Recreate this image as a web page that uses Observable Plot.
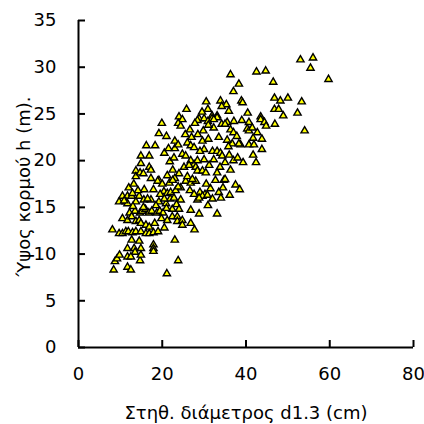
<!DOCTYPE html>
<html>
<head>
<meta charset="utf-8">
<script src="https://cdn.jsdelivr.net/npm/d3@7"></script>
<script src="https://cdn.jsdelivr.net/npm/@observablehq/plot@0.6"></script>
<style>
  html, body { margin: 0; padding: 0; background: #fff; }
</style>
</head>
<body>
<div id="chart"></div>
<script>
const xTitle = "Στηθ. διάμετρος d1.3 (cm)";
const yTitle = "Ύψος κορμού h (m).";
const xTicks = [0, 20, 40, 60, 80];
const yTicks = [0, 5, 10, 15, 20, 25, 30, 35];

// [diameter d1.3 (cm), height h (m)]
const trees = [
  [36.3,29.2],[42.5,29.5],[38.3,28.2],[37.0,27.4],[30.5,26.3],[33.9,26.4],[38.9,26.4],[39.2,26.2],
  [35.3,26.0],[34.2,25.8],[30.9,25.5],[35.9,25.3],[25.8,25.5],[40.4,25.1],[31.9,24.8],[33.1,24.8],
  [53.0,30.8],[56.0,31.0],[55.4,29.9],[44.7,29.6],[59.7,28.7],[46.5,28.4],[46.8,26.7],[48.2,26.4],
  [50.0,26.7],[53.3,26.3],[46.8,25.5],[47.8,25.5],[52.3,25.1],[48.9,24.8],[43.5,24.7],
  [39.0,24.3],[40.7,24.1],[43.5,24.4],[44.4,24.1],[44.8,23.7],[46.9,23.9],[54.0,23.2],[40.3,23.4],
  [40.7,23.2],[42.7,23.0],[41.7,22.4],[43.8,22.3],[40.7,21.7],[41.9,21.7],[43.8,21.2],[38.7,21.7],
  [41.7,20.6],[39.3,19.8],[42.4,19.8],
  [24.0,24.7],[28.8,24.5],[30.0,24.5],[31.9,24.5],[33.1,24.6],
  [24.8,24.4],[28.4,24.3],[30.9,24.2],[32.3,24.4],[35.5,24.1],[37.1,24.2],
  [19.9,24.0],[23.8,24.0],[24.4,23.7],
  [26.6,23.3],[29.8,23.2],[32.3,23.5],[34.2,23.9],[35.0,23.9],[36.3,23.3],[37.0,23.0],[41.5,23.5],
  [19.2,22.9],[21.0,22.6],[23.0,22.1],[23.0,21.3],[23.8,21.7],[16.2,21.6],[18.3,21.6],
  [26.0,21.9],[26.8,21.6],[27.6,21.4],[29.6,22.1],[30.0,21.2],[32.0,21.0],[33.1,21.0],[33.9,20.8],
  [34.3,20.5],[36.7,21.8],[38.3,21.8],
  [24.8,20.7],[25.6,20.5],[26.8,20.0],[27.6,19.6],[28.4,20.0],[30.0,20.1],[32.3,20.1],[35.0,19.8],
  [14.9,20.5],[16.9,20.5],[14.9,19.7],[16.9,19.3],[17.3,19.0],[13.7,18.9],[13.7,18.3],[14.7,18.7],
  [15.5,18.6],[17.3,18.1],[19.2,17.9],[18.9,17.8],[21.2,18.4],
  [25.2,19.3],[26.4,19.5],[28.0,19.3],[28.4,18.9],[29.6,18.9],[30.4,18.7],[33.1,18.7],[36.3,19.0],
  [20.5,20.8],[21.8,19.9],[22.5,19.0],[22.8,20.3],[21.5,21.3],[24.0,18.6],[23.0,18.1],
  [25.6,17.8],[26.8,17.6],[28.0,17.8],[32.7,17.9],[34.7,17.9],[35.0,18.0],
  [24.4,17.1],[26.6,16.8],[29.0,16.6],[30.2,16.4],
  [15.7,16.9],[17.9,16.9],[20.4,16.7],[21.2,16.5],[22.0,16.6],[23.2,16.8],[23.8,17.2],
  [36.1,16.3],[27.6,16.4],[29.6,16.2],[30.8,16.3],[31.5,17.0],[33.5,16.6],[34.5,17.1],[37.5,17.4],[38.5,16.9],
  [10.5,16.2],[11.7,16.2],[12.7,16.2],[14.5,16.2],
  [11.3,15.6],[11.7,15.4],[13.7,15.6],[15.6,15.8],[17.3,15.8],[19.2,15.6],[20.9,15.4],[21.9,15.9],[22.4,14.8],
  [12.2,14.4],[13.5,14.6],[14.7,14.4],[15.2,14.6],[16.0,14.8],[16.8,14.4],[17.5,14.6],[18.7,14.4],
  [19.4,14.6],[20.2,14.4],[21.0,14.9],
  [22.4,14.0],[23.6,14.0],[23.6,13.5],
  [10.5,13.8],[11.7,13.6],[12.7,14.0],[13.7,13.5],[14.5,13.6],[14.9,13.3],[16.1,13.1],[16.9,12.9],
  [8.1,12.6],[9.7,12.2],[10.5,12.2],[11.3,12.4],[11.9,12.4],[12.9,12.3],[13.7,12.4],[14.9,12.4],
  [16.1,12.2],[16.9,12.2],[17.9,12.3],[19.0,12.4],
  [12.7,11.5],[14.5,11.4],[23.0,11.5],
  [11.7,10.6],[13.3,10.6],[14.9,10.6],[13.5,10.2],[17.9,11.0],[17.9,10.6],[17.9,10.3],
  [8.7,9.2],[9.2,9.5],[9.8,9.9],[11.7,9.7],[12.5,9.7],[14.7,9.3],[14.9,9.9],[23.8,9.3],
  [8.4,8.3],[11.7,8.6],[12.5,8.3],[21.1,7.9],
  [28.4,15.8],[28.8,16.0],[32.0,15.9],[24.4,15.8],[26.8,14.7],[28.8,14.3],[30.9,15.2],[33.1,14.3],
  [24.8,13.6],[24.8,13.1],[26.8,13.3],[27.7,12.6],
  [19.5,16.4],[20.0,17.5],[18.5,15.2],[20.5,15.9],[21.7,17.6],[22.5,17.9],[23.4,15.3],[22.8,16.0],
  [24.0,14.8],[19.8,13.8],[21.2,13.6],[18.2,13.3],[20.5,12.8],[15.5,15.0],[16.5,15.9],[13.0,15.1],
  [12.0,17.1],[13.2,17.5],[14.2,16.8],
  [9.7,15.6],[10.9,15.7],[12.9,16.5],
  [27.0,22.5],[28.5,22.8],[31.0,22.3],[33.5,22.5],[35.5,22.2],[29.0,21.0],[31.2,19.5],[33.8,19.3],
  [26.0,18.3],[27.2,18.0],[30.5,17.5],[34.0,16.0],[37.0,20.0],[36.0,20.6],[38.0,20.3],[25.5,22.8],
  [27.8,24.0],[29.5,25.2],[31.0,23.8],[37.8,22.6],[35.8,21.5]
];

const W = 424, H = 424;
const mL = 78, mR = 11, mT = 20, mB = 77;
const plotW = W - mL - mR, plotH = H - mT - mB;
const font = "DejaVu Sans, Verdana, sans-serif";

const chart = Plot.plot({
  width: W,
  height: H,
  marginLeft: mL,
  marginRight: mR,
  marginTop: mT,
  marginBottom: mB,
  style: { fontFamily: font, fontSize: "18px", color: "#000", background: "#fff", overflow: "visible" },
  x: { domain: [0, 80] },
  y: { domain: [0, 35] },
  marks: [
    Plot.axisX({ ticks: xTicks, tickSize: 0, tickPadding: 20, fontSize: 18, label: null, tickFormat: d => String(d) }),
    Plot.axisY({ ticks: yTicks, tickSize: 0, tickPadding: 22, fontSize: 18, label: null, tickFormat: d => String(d) }),
    Plot.ruleX(xTicks, { x: d => d, insetTop: plotH - 7, stroke: "#000", strokeWidth: 2 }),
    Plot.ruleY(yTicks, { y: d => d, insetRight: plotW - 7, stroke: "#000", strokeWidth: 2 }),
    Plot.ruleY([0], { stroke: "#000", strokeWidth: 2 }),
    Plot.ruleX([0], { stroke: "#000", strokeWidth: 2 }),
    Plot.dot(trees, { x: d => d[0], y: d => d[1], symbol: "triangle", r: 2.7, fill: "#ffff00", stroke: "#000", strokeWidth: 1.4 }),
    Plot.text([xTitle], { frameAnchor: "bottom", dy: 71, text: d => d, fontSize: 18, fill: "#000", textAnchor: "middle", lineAnchor: "bottom" })
  ]
});

// y-axis title, centred on the plot frame
d3.select(chart).append("text")
  .attr("transform", `translate(23,${mT + plotH / 2 + 3}) rotate(-90)`)
  .attr("text-anchor", "middle")
  .attr("dominant-baseline", "central")
  .attr("font-family", font)
  .attr("font-size", 18)
  .attr("fill", "#000")
  .text(yTitle);

document.getElementById("chart").appendChild(chart);
</script>
</body>
</html>
